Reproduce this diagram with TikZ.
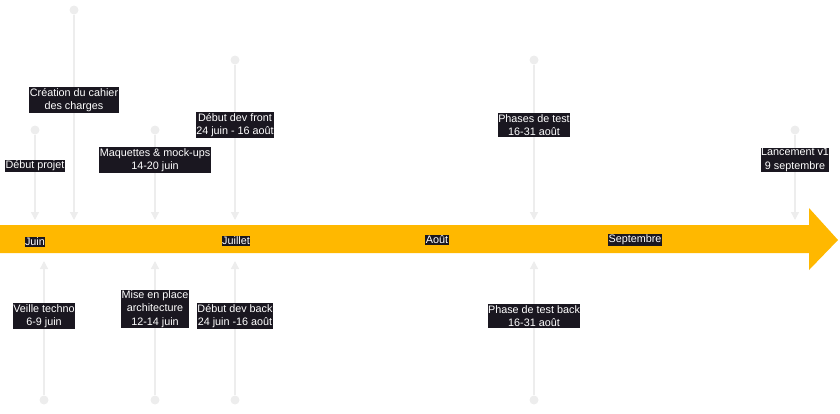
\documentclass[tikz,border=0pt]{standalone}
\usepackage{fontspec}
\setmainfont{Liberation Sans}
\usetikzlibrary{arrows.meta}
\definecolor{bandyellow}{HTML}{FFB800}
\definecolor{labelbg}{HTML}{1A1720}
\definecolor{stemgray}{HTML}{EDEDED}
\tikzset{
	tag/.style={fill=labelbg, text=white, inner xsep=0.5pt, inner ysep=1pt, align=center, font=\fontsize{10.8}{13.3}\selectfont},
	stem/.style={draw=stemgray, line width=1.3pt, -{Triangle[width=8pt,length=8pt]}},
	knob/.style={circle, fill=stemgray, inner sep=0pt, minimum size=9pt},
}
\begin{document}
\begin{tikzpicture}[x=1pt,y=-1pt]
				\useasboundingbox (0,0) rectangle (840,413);
				
				\fill[bandyellow] (0,225) -- (809,225) -- (809,208) -- (838,240) -- (809,270) -- (809,253) -- (0,253) -- cycle;
				
				% au-dessus de la bande
				\node[knob] (debdot) at (35,130) {};
				\coordinate (debtip) at (35,220);
				\draw[stem] (debdot) -- (debtip);
				
				\node[knob] (cahierdot) at (74,10) {};
				\coordinate (cahiertip) at (74,220);
				\draw[stem] (cahierdot) -- (cahiertip);
				
				\node[knob] (maqdot) at (155,130) {};
				\coordinate (maqtip) at (155,220);
				\draw[stem] (maqdot) -- (maqtip);
				
				\node[knob] (frontdot) at (235,60) {};
				\coordinate (fronttip) at (235,220);
				\draw[stem] (frontdot) -- (fronttip);
				
				\node[knob] (testdot) at (534,60) {};
				\coordinate (testtip) at (534,220);
				\draw[stem] (testdot) -- (testtip);
				
				\node[knob] (lancdot) at (795,130) {};
				\coordinate (lanctip) at (795,220);
				\draw[stem] (lancdot) -- (lanctip);
				
				% sous la bande
				\node[knob] (veilledot) at (44,400) {};
				\coordinate (veilletip) at (44,261);
				\draw[stem] (veilledot) -- (veilletip);
				
				\node[knob] (archidot) at (155,400) {};
				\coordinate (architip) at (155,261);
				\draw[stem] (archidot) -- (architip);
				
				\node[knob] (backdot) at (235,400) {};
				\coordinate (backtip) at (235,261);
				\draw[stem] (backdot) -- (backtip);
				
				\node[knob] (testbackdot) at (534,400) {};
				\coordinate (testbacktip) at (534,261);
				\draw[stem] (testbackdot) -- (testbacktip);
				
				% etiquettes
				\node[tag] (deb) at (35,166) {Début projet};
				\node[tag] (cahier) at (74,100) {Création du cahier\\des charges};
				\node[tag] (maq) at (155,160) {Maquettes \& mock-ups\\14-20 juin};
				\node[tag] (front) at (235,125) {Début dev front\\24 juin - 16 août};
				\node[tag] (test) at (534,125) {Phases de test\\16-31 août};
				\node[tag] (lanc) at (795,160) {Lancement v1\\9 septembre};
				
				\node[tag] (veille) at (44,316) {Veille techno\\6-9 juin};
				\node[tag] (archi) at (155,309) {Mise en place\\architecture\\12-14 juin};
				\node[tag] (back) at (235,316) {Début dev back\\24 juin -16 août};
				\node[tag] (testback) at (534,316) {Phase de test back\\16-31 août};
				
				% mois
				\node[tag] (juin) at (35,242) {Juin};
				\node[tag] (juillet) at (236,241) {Juillet};
				\node[tag] (aout) at (437,240) {Août};
				\node[tag] (sept) at (635,240) {Septembre};
			\end{tikzpicture}
\end{document}
